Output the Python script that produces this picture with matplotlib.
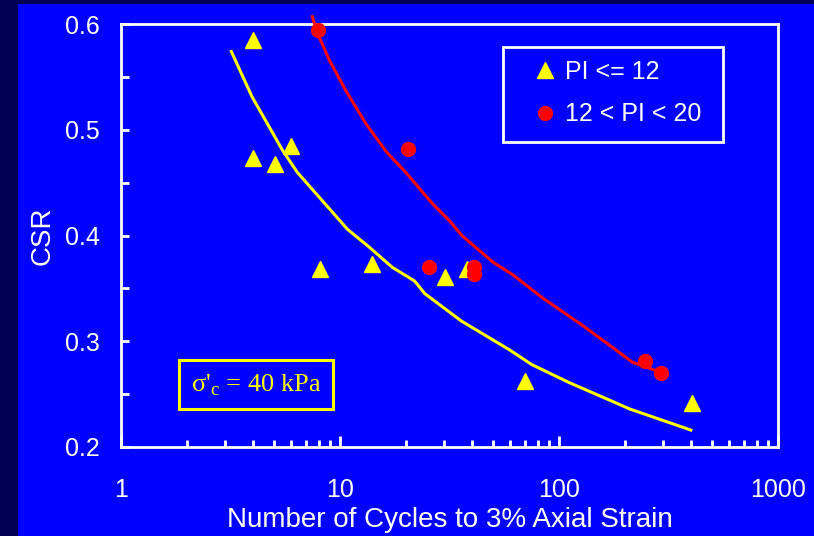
import matplotlib
matplotlib.use("Agg")
import matplotlib.pyplot as plt
from matplotlib.patches import Rectangle

# ---- data ----
pi_low_n = [4.0, 4.0, 5.05, 6.0, 8.1, 14.0, 30.3, 38.2, 69.6, 404]
pi_low_csr = [0.585, 0.473, 0.468, 0.485, 0.368, 0.373, 0.361, 0.368, 0.262, 0.242]

pi_mid_n = [7.9, 20.5, 25.6, 41.1, 40.8, 246, 291]
pi_mid_csr = [0.594, 0.482, 0.370, 0.370, 0.364, 0.281, 0.270]

curve_low_n = [3.19, 3.97, 5.45, 6.37, 10.8, 13.6, 17.3, 21.9, 24.4, 35.9, 59.3, 75.0, 111, 176, 210, 330, 400]
curve_low_csr = [0.574, 0.531, 0.481, 0.460, 0.406, 0.389, 0.370, 0.357, 0.345, 0.319, 0.292, 0.278, 0.261, 0.243, 0.236, 0.222, 0.216]

curve_mid_n = [7.47, 7.87, 8.93, 10.7, 13.2, 16.3, 20.1, 26.2, 31.6, 36.0, 49.8, 61.4, 84.1, 128, 176, 217, 298]
curve_mid_csr = [0.607, 0.592, 0.566, 0.536, 0.505, 0.479, 0.459, 0.431, 0.414, 0.400, 0.375, 0.363, 0.341, 0.315, 0.294, 0.280, 0.270]

x_ticks = [1, 10, 100, 1000]
x_tick_labels = ["1", "10", "100", "1000"]
y_ticks = [0.2, 0.3, 0.4, 0.5, 0.6]
y_tick_labels = ["0.2", "0.3", "0.4", "0.5", "0.6"]

label_low = "PI <= 12"
label_mid = "12 < PI < 20"
annotation = "σ'$_{\\mathrm{c}}$ = 40 kPa"

# ---- figure ----
W, H = 814, 536
fig = plt.figure(figsize=(W / 100, H / 100), dpi=100)
fig.patch.set_facecolor("#0000FF")
fig.patches.append(Rectangle((0, 0), 18 / W, 1, transform=fig.transFigure,
                             facecolor="#000055", edgecolor="none", zorder=-10))
fig.patches.append(Rectangle((0, 1 - 4 / H), 1, 4 / H, transform=fig.transFigure,
                             facecolor="#000055", edgecolor="none", zorder=-10))

plt.rcParams['font.family'] = ['Liberation Sans', 'DejaVu Sans']
plt.rcParams['mathtext.fontset'] = 'custom'
plt.rcParams['mathtext.rm'] = 'Liberation Serif'

ax = fig.add_axes([121 / W, 1 - 447 / H, (778 - 121) / W, (447 - 24) / H])
ax.set_facecolor("#0000FF")

yellow = "#FFFF00"
red = "#FF0000"

ax.plot(curve_low_n, curve_low_csr, color=yellow, lw=2.2, clip_on=False, zorder=3)
ax.plot(curve_mid_n, curve_mid_csr, color=red, lw=2.2, clip_on=False, zorder=3)
ax.plot(pi_low_n, pi_low_csr, linestyle="none", marker="^", ms=11, color=yellow,
        mec=yellow, label=label_low, clip_on=False, zorder=4)
ax.plot(pi_mid_n, pi_mid_csr, linestyle="none", marker="o", ms=10, color=red,
        mec=red, label=label_mid, clip_on=False, zorder=5)

ax.set_xscale("log")
ax.set_xlim(1, 1000)
ax.set_ylim(0.2, 0.6)

for s in ax.spines.values():
    s.set_color("white")
    s.set_linewidth(2)

ax.set_xticks(x_ticks)
ax.set_xticklabels(x_tick_labels)
ax.set_yticks(y_ticks)
ax.set_yticklabels(y_tick_labels)
ax.set_yticks([0.25, 0.35, 0.45, 0.55], minor=True)
ax.tick_params(axis="both", which="both", direction="in", colors="white",
               labelcolor="white", labelsize=18, top=False, right=False)
ax.tick_params(axis="x", which="major", length=8, width=2, pad=22)
ax.tick_params(axis="x", which="minor", length=5, width=2)
ax.tick_params(axis="y", which="both", length=6, width=2, pad=15)
ax.tick_params(axis="x", which="minor", labelbottom=False)

ax.set_xlabel("Number of Cycles to 3% Axial Strain", color="white", fontsize=20, labelpad=4)
ax.set_ylabel("CSR", color="white", fontsize=20, labelpad=7)

# legend frame (drawn separately so the entries can sit where they do in the original)
ax.add_patch(Rectangle((0.581, 0.721), 0.335, 0.225, transform=ax.transAxes,
                       facecolor="#0000FF", edgecolor="white", linewidth=2,
                       zorder=6, clip_on=False))
leg = ax.legend(loc="center left", bbox_to_anchor=(0.626, 0.837), frameon=False,
                fontsize=18, labelcolor="white", handlelength=1.0,
                handletextpad=0.3, borderpad=0, labelspacing=0.75,
                borderaxespad=0)
leg.set_zorder(7)

ax.text(0.206, 0.147, annotation, transform=ax.transAxes,
        color=yellow, fontsize=19, ha="center", va="center",
        family=['Liberation Serif', 'DejaVu Serif'],
        bbox=dict(boxstyle="square,pad=0.45", facecolor="#0000FF",
                  edgecolor=yellow, linewidth=2.2))

fig.savefig("out.png", dpi=100, facecolor=fig.get_facecolor())
